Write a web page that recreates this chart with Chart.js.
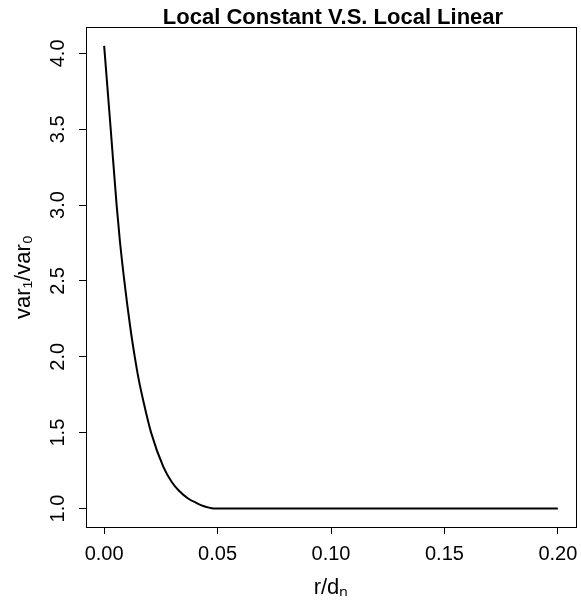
<!DOCTYPE html>
<html>
<head>
<meta charset="utf-8">
<script src="https://cdn.jsdelivr.net/npm/chart.js@4"></script>
<style>
  html, body { margin: 0; padding: 0; background: #fff; }
  #wrap { width: 581px; height: 602px; }
</style>
</head>
<body>
<div id="wrap"><canvas id="ratioChart" width="581" height="602"></canvas></div>
<script>
// r/d_n values and var1/var0 ratio
const ratioX = [0, 0.0029, 0.0055, 0.0069, 0.0089, 0.0117, 0.0135, 0.0153,
    0.0172, 0.0207, 0.0261, 0.0298, 0.0330, 0.0370, 0.0408, 0.0440, 0.0466,
    0.0480, 0.0500, 0.1000, 0.1500, 0.2000];
const ratioY = [4.05, 3.5, 3.0, 2.77, 2.5, 2.175, 2.0, 1.846,
    1.714, 1.5, 1.274, 1.175, 1.117, 1.066, 1.036, 1.015, 1.004,
    1.0, 1.0, 1.0, 1.0, 1.0];
const xTicks = [0, 0.05, 0.10, 0.15, 0.20];
const yTicks = [1.0, 1.5, 2.0, 2.5, 3.0, 3.5, 4.0];
const mainTitle = 'Local Constant V.S. Local Linear';

const FONT = "'Liberation Sans', Arial, sans-serif";

// R-style box around the plotting region, plus the main title centred on it
const boxPlugin = {
    id: 'plotBox',
    afterDraw(chart) {
        const { ctx, chartArea } = chart;
        ctx.save();
        ctx.strokeStyle = '#000';
        ctx.lineWidth = 1;
        ctx.strokeRect(Math.round(chartArea.left) + 0.5, Math.round(chartArea.top) + 0.5,
            Math.round(chartArea.right - chartArea.left), Math.round(chartArea.bottom - chartArea.top));
        ctx.fillStyle = '#000';
        ctx.font = 'bold 22px ' + FONT;
        ctx.textAlign = 'center';
        ctx.textBaseline = 'alphabetic';
        ctx.fillText(mainTitle, (chartArea.left + chartArea.right) / 2 + 2, 24);
        ctx.restore();
    }
};

window.onload = () => {
    const ctx = document.getElementById('ratioChart').getContext('2d');
    const ratioChart = new Chart(ctx, {
        type: 'line',
        data: {
            datasets: [{
                data: ratioX.map((x, i) => ({ x: x, y: ratioY[i] })),
                borderColor: '#000',
                borderWidth: 2,
                pointRadius: 0,
                fill: false,
                cubicInterpolationMode: 'monotone'
            }]
        },
        options: {
            responsive: false,
            animation: false,
            layout: { padding: { left: 0, right: 5, top: 27, bottom: 0 } },
            plugins: {
                legend: { display: false },
                tooltip: { enabled: false },
                title: { display: false }
            },
            scales: {
                x: {
                    type: 'linear',
                    min: -0.008,
                    max: 0.208,
                    afterBuildTicks: (scale) => { scale.ticks = xTicks.map(v => ({ value: v })); },
                    afterFit: (scale) => {
                        scale.height = 75;
                        scale.paddingLeft = 0;
                        scale.paddingRight = 0;
                    },
                    grid: { display: true, drawOnChartArea: false, drawTicks: true, tickLength: 7, color: '#000', lineWidth: 1 },
                    border: { display: true, color: '#000', width: 1 },
                    ticks: {
                        color: '#000',
                        font: { family: FONT, size: 20 },
                        padding: 8,
                        maxRotation: 0,
                        autoSkip: false,
                        callback: (v) => v.toFixed(2)
                    },
                    title: {
                        display: true,
                        text: 'r/dₙ',
                        color: '#000',
                        font: { family: FONT, size: 22 },
                        padding: { top: 0, bottom: 1 }
                    }
                },
                y: {
                    type: 'linear',
                    min: 0.878,
                    max: 4.174,
                    afterBuildTicks: (scale) => { scale.ticks = yTicks.map(v => ({ value: v })); },
                    afterFit: (scale) => {
                        scale.width = 86;
                        scale.paddingTop = 0;
                        scale.paddingBottom = 0;
                    },
                    grid: { display: true, drawOnChartArea: false, drawTicks: true, tickLength: 7, color: '#000', lineWidth: 1 },
                    border: { display: true, color: '#000', width: 1 },
                    ticks: {
                        color: '#000',
                        font: { family: FONT, size: 20 },
                        padding: 7,
                        minRotation: 90,
                        maxRotation: 90,
                        crossAlign: 'center',
                        autoSkip: false,
                        callback: (v) => v.toFixed(1)
                    },
                    title: {
                        display: true,
                        text: 'var₁/var₀',
                        color: '#000',
                        font: { family: FONT, size: 22 },
                        padding: { top: 11, bottom: 0 }
                    }
                }
            }
        },
        plugins: [boxPlugin]
    });
};
</script>
</body>
</html>
